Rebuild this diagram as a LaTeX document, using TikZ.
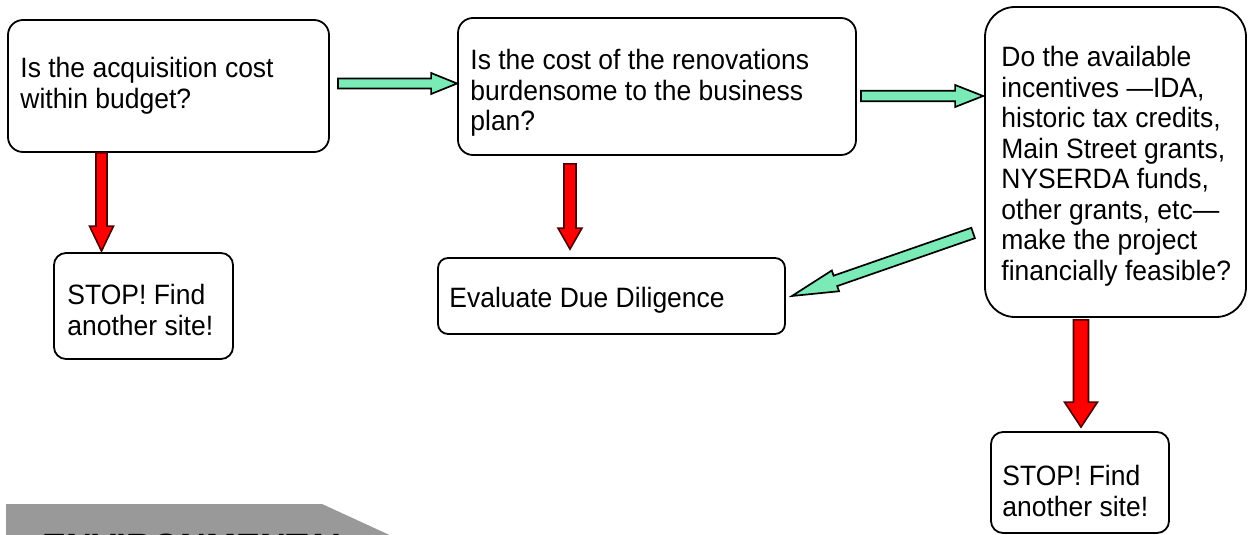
\documentclass[tikz,border=0pt]{standalone}
\usepackage{fontspec}
\setmainfont{Liberation Sans}[FakeStretch=0.946]
\usetikzlibrary{calc}
\definecolor{arrowgreen}{RGB}{122,235,183}
\definecolor{arrowred}{RGB}{255,0,0}
\definecolor{bannergray}{RGB}{153,153,153}
\tikzset{
  flowbox/.style={draw,line width=0.9pt,rounded corners=7.5pt,inner sep=0pt},
  boxtext/.style={anchor=north west,inner sep=0pt,align=left,
    font=\fontsize{14}{15.25}\selectfont},
  greenarrow/.style={fill=arrowgreen,draw=black,line width=0.85pt,line join=miter},
  redarrow/.style={fill=arrowred,draw=black!70!red,line width=0.8pt,line join=miter}
}
% block arrow: style, from, to, half shaft, half head, head length (pt)
\newcommand*{\blockarrow}[6]{%
  \path let \p1=(#2), \p2=(#3),
    \n1={atan2(\y2-\y1,\x2-\x1)}, \n2={veclen(\x2-\x1,\y2-\y1)} in
    \pgfextra{\xdef\arrang{\n1}\xdef\arrlen{\n2}};
  \draw[#1,shift={(#2)},rotate=\arrang]
    (0pt,-#4pt) -- ({\arrlen-#6pt},-#4pt) -- ({\arrlen-#6pt},-#5pt)
    -- (\arrlen,0pt) -- ({\arrlen-#6pt},#5pt) -- ({\arrlen-#6pt},#4pt)
    -- (0pt,#4pt) -- cycle}

\begin{document}
\begin{tikzpicture}[x=0.5pt,y=-0.5pt]
\useasboundingbox (0,0) rectangle (1248,535);
\clip (0,0) rectangle (1248,535);
% Scale: one unit per pixel of the page

% Question boxes
\node[flowbox,minimum width=160.5pt,minimum height=66pt] (acq) at (168.5,86) {};
\node[boxtext] (acqtext) at (20,57) {Is the acquisition cost\\within budget?};
\node[flowbox,minimum width=199pt,minimum height=68.5pt] (reno) at (657,86.5) {};
\node[boxtext] (renotext) at (470,49)
  {Is the cost of the renovations\\burdensome to the business\\plan?};
\node[flowbox,rounded corners=15pt,minimum width=130.5pt,minimum height=155pt]
  (incent) at (1115.5,162) {};
\node[boxtext] (incenttext) at (1001,46)
  {Do the available\\incentives ---IDA,\\historic tax credits,\\Main Street grants,\\
   NYSERDA funds,\\other grants, etc---\\make the project\\financially feasible?};

% Outcome boxes
\node[flowbox,rounded corners=6pt,minimum width=89.5pt,minimum height=53pt]
  (stop1) at (143.5,306) {};
\node[boxtext] (stop1text) at (67,284) {STOP! Find\\another site!};
\node[flowbox,rounded corners=5pt,minimum width=173.5pt,minimum height=38pt]
  (eval) at (611.5,296) {};
\node[boxtext] (evaltext) at (449,287) {Evaluate Due Diligence};
\node[flowbox,rounded corners=6pt,minimum width=89pt,minimum height=50.5pt]
  (stop2) at (1080,482.5) {};
\node[boxtext] (stop2text) at (1002,465) {STOP! Find\\another site!};

% Yes arrows
\blockarrow{greenarrow}{$(acq.east)+(8,-2.5)$}{$(reno.west)+(0,-3)$}{2.5}{5.25}{13};
\blockarrow{greenarrow}{$(reno.east)+(4,9.5)$}{$(incent.west)+(-1,-66)$}{2.6}{5.5}{14};
\blockarrow{greenarrow}{$(incent.west)+(-11,71)$}{$(eval.east)+(6,0)$}{2.75}{5.5}{23};

% No arrows
\blockarrow{redarrow}{$(acq.south)+(-67,0)$}{$(stop1.north)+(-42,-1)$}{2.75}{6}{12.5};
\blockarrow{redarrow}{$(reno.south)+(-87,8)$}{$(eval.north)+(-41.5,-8)$}{3}{6}{10.5};
\blockarrow{redarrow}{$(incent.south)+(-34.5,2)$}{$(stop2.north)+(1,-4)$}{3.75}{8.25}{12.5};

% Grey banner, cut by the page edge
\fill[bannergray] (6,504) -- (322,504) -- (420,549) -- (6,549) -- cycle;
\node[anchor=base west,inner sep=0pt,font=\fontsize{19}{22}\bfseries] (env)
  at (42,560) {ENVIRONMENTAL};
\end{tikzpicture}
\end{document}
